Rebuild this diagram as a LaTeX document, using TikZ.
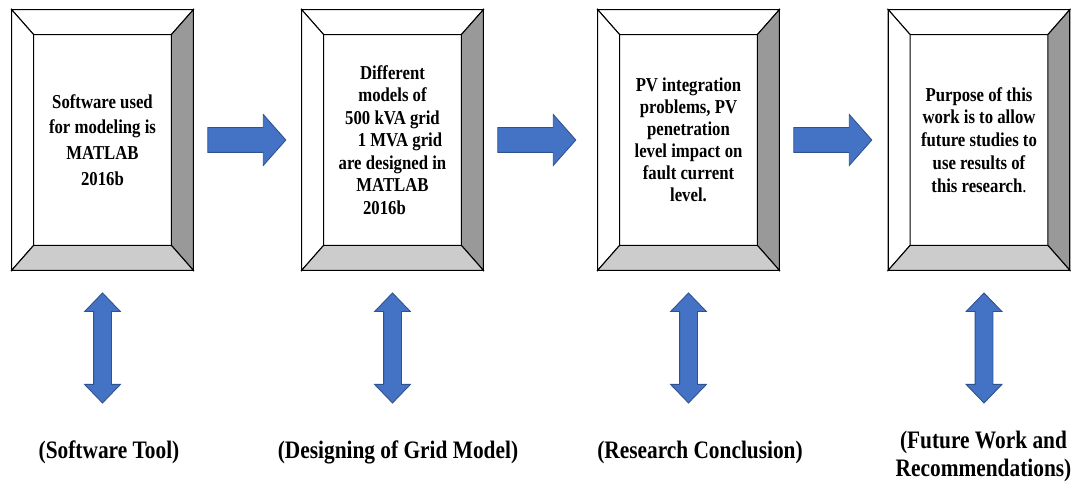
\documentclass[tikz,border=0pt]{standalone}
\usepackage{fontspec}
\setmainfont{Liberation Serif}[FakeStretch=0.85]
\usepackage{tikz}
\usetikzlibrary{calc,positioning,shapes.arrows}

\definecolor{arrowblue}{HTML}{4472C4}
\definecolor{arrowline}{HTML}{2F528F}
\definecolor{bevelright}{HTML}{999999}
\definecolor{bevelbottom}{HTML}{CCCCCC}

\tikzset{
  frame/.style={minimum width=3.62cm, minimum height=5.2cm, inner sep=0pt,
    align=center, font=\bfseries\fontsize{11.2}{12.8}\selectfont},
  flowarrow/.style={single arrow, fill=arrowblue, draw=arrowline, line width=0.5pt,
    text height=0pt, text depth=0pt, inner xsep=0pt, inner ysep=0.24cm,
    minimum height=1.56cm, single arrow head extend=0.26cm, single arrow tip angle=97},
  linkarrow/.style={double arrow, fill=arrowblue, draw=arrowline, line width=0.5pt,
    text height=0pt, text depth=0pt, inner xsep=0pt, inner ysep=0.17cm,
    minimum height=2.2cm, rotate=90, double arrow head extend=0.18cm, double arrow tip angle=88},
  stage/.style={align=center, font=\bfseries\fontsize{14.3}{15.9}\selectfont}
}

\begin{document}
\begin{tikzpicture}
  \useasboundingbox (0,0) rectangle (21.54,9.68);

  % the four framed boxes
  \node[frame, font=\bfseries\fontsize{11.2}{14.7}\selectfont] (b1) at (2.05,6.88)
    {Software used\\for modeling is\\MATLAB\\2016b};
  \node[frame] (b2) at (7.85,6.88)
    {Different\\models of\\500 kVA grid\\\hspace*{0.3cm}1 MVA grid\\are designed in\\MATLAB\\2016b\hspace*{0.32cm}};
  \node[frame, font=\bfseries\fontsize{11.2}{12.5}\selectfont] (b3) at (13.77,6.88)
    {PV integration\\problems, PV\\penetration\\level impact on\\fault current\\level.};
  \node[frame, font=\bfseries\fontsize{11.2}{13}\selectfont] (b4) at (19.58,6.88)
    {Purpose of this\\work is to allow\\future studies to\\use results of\\this research\textmd{.}};

  % bevelled borders
  \foreach \b in {b1,b2,b3,b4}{
    \coordinate (\b-nw) at ($(\b.north west)+(0.44,-0.5)$);
    \coordinate (\b-ne) at ($(\b.north east)+(-0.44,-0.5)$);
    \coordinate (\b-se) at ($(\b.south east)+(-0.44,0.5)$);
    \coordinate (\b-sw) at ($(\b.south west)+(0.44,0.5)$);
    \filldraw[fill=white, line width=0.6pt] (\b.north west)--(\b.north east)--(\b-ne)--(\b-nw)--cycle;
    \filldraw[fill=white, line width=0.6pt] (\b.north west)--(\b-nw)--(\b-sw)--(\b.south west)--cycle;
    \filldraw[fill=bevelright, line width=0.6pt] (\b.north east)--(\b.south east)--(\b-se)--(\b-ne)--cycle;
    \filldraw[fill=bevelbottom, line width=0.6pt] (\b.south west)--(\b-sw)--(\b-se)--(\b.south east)--cycle;
    \draw[line width=0.7pt] (\b.north west) rectangle (\b.south east);
  }

  % arrows between the boxes
  \node[flowarrow, right=0.28cm of b1] (a12) {};
  \node[flowarrow, right=0.28cm of b2] (a23) {};
  \node[flowarrow, right=0.28cm of b3] (a34) {};

  % arrows down to the stage names
  \node[linkarrow, below=0.44cm of b1, anchor=east] (d1) {};
  \node[linkarrow, below=0.44cm of b2, anchor=east] (d2) {};
  \node[linkarrow, below=0.44cm of b3, anchor=east] (d3) {};
  \node[xshift=0.1cm, linkarrow, below=0.44cm of b4, anchor=east] (d4) {};

  \node[stage] (s1) at (2.18,0.64) {(Software Tool)};
  \node[stage] (s2) at (7.96,0.64) {(Designing of Grid Model)};
  \node[stage] (s3) at (14.0,0.64) {(Research Conclusion)};
  \node[stage] (s4) at (19.67,0.56) {(Future Work and\\Recommendations)};
\end{tikzpicture}
\end{document}
